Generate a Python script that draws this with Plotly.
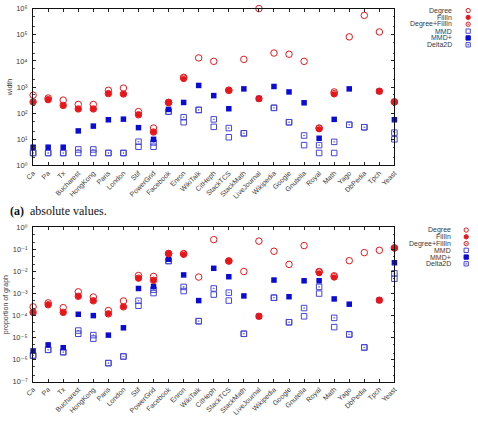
import plotly.graph_objects as go

W, H = 478, 421

cats = ["Ca", "Pa", "Tx", "Bucharest", "HongKong", "Paris", "London", "Stif",
        "PowerGrid", "Facebook", "Enron", "WikiTalk", "CitHeph", "StackTCS",
        "StackMath", "LiveJournal", "Wikipedia", "Google", "Gnutella", "Royal",
        "Math", "Yago", "DbPedia", "Tpch", "Yeast"]

# ---- (a) absolute values (width) ----
abs_degree = [490, 380, 316, 215, 215, 750, 910, 115, 27, 257, 2350, 13000, 9600, 750,
              11400, 1000000, 20000, 18000, 9600, 27, 650, 83000, 550000, 128000, 270]
abs_fillin = [270, 330, 198, 145, 145, 560, 540, 87, 19, 257, 2030, None, None, 750,
              None, 360, None, None, None, 24.5, 530, None, None, 690, 270]
abs_degfill = [270, 330, 198, 145, 145, 560, 540, 87, 19, 257, 2200, None, None, 750,
               None, 360, None, None, None, 26, 560, None, None, 690, 270]
abs_mmd = [3, 3, 3, 3, 3, 3, 3, 5.2, 5.2, 115, 45, 133, 30, 12,
           17, None, 160, 45, 6, 3, 3, 36, 29, None, 10]
abs_mmdplus = [5, 5, 5, 21, 32, 56, 59, 28, 10, 140, 257, 1150, 470, 148,
               850, 360, 1050, 650, 250, 11, 58, 850, None, 690, 56]
abs_delta2d = [3, 3, 3, 4.1, 4.1, 3, 3, 8.1, 7.6, 115, 70, 133, 58, 27,
               17, None, 160, 45, 14, 6, 8, 36, 29, None, 18]

# ---- proportion of graph ----
rel_degree = [2.5e-4, 3.8e-4, 2.3e-4, 1.2e-3, 7e-4, 1.7e-4, 4.6e-4, 6.6e-3, 6e-3, 0.065,
              0.065, 5.6e-3, 0.28, 0.03, 0.01, 0.24, 0.083, 0.021, 0.15, 0.01,
              6.4e-3, 0.031, 0.072, 0.092, 0.117]
rel_fillin = [1.4e-4, 3.1e-4, 1.4e-4, 7.5e-4, 4.7e-4, 1.2e-4, 2.5e-4, 5e-3, 4e-3, 0.065,
              0.058, None, None, 0.03, None, 9.3e-5, None, None, None, 8.3e-3,
              5.4e-3, None, None, 5e-4, 0.117]
rel_degfill = [1.4e-4, 3.1e-4, 1.4e-4, 7.5e-4, 4.7e-4, 1.2e-4, 2.5e-4, 5e-3, 4e-3, 0.065,
               0.062, None, None, 0.03, None, 9.3e-5, None, None, None, 9.5e-3,
               5.8e-3, None, None, 5e-4, 0.117]
rel_mmd = [1.55e-6, 2.8e-6, 2.2e-6, 1.5e-5, 9e-6, 7e-7, 1.4e-6, 2.8e-4, 1.05e-3, 0.03,
           1.3e-3, 5.6e-5, 9e-4, 4.8e-4, 1.5e-5, None, 6.5e-4, 5e-5, 9.3e-5, 1e-3,
           3e-5, 1.4e-5, 3.6e-6, None, 4.7e-3]
rel_mmdplus = [2.5e-6, 4.7e-6, 3.5e-6, 1.15e-4, 1e-4, 1.3e-5, 2.8e-5, 1.7e-3, 2.1e-3, 0.036,
               7e-3, 4.8e-4, 0.014, 5.8e-3, 7.8e-4, 9.3e-5, 4.1e-3, 7.2e-4, 3.8e-3, 3.8e-3,
               5.7e-4, 3.3e-4, None, 5e-4, 0.025]
rel_delta2d = [1.55e-6, 2.8e-6, 2.2e-6, 2.1e-5, 1.3e-5, 7e-7, 1.4e-6, 4.7e-4, 1.5e-3, 0.03,
               2e-3, 5.6e-5, 1.7e-3, 1.1e-3, 1.5e-5, None, 6.5e-4, 5e-5, 2.2e-4, 2e-3,
               7.9e-5, 1.4e-5, 3.6e-6, None, 8.3e-3]

top_ticks = [1, 10, 100, 1000, 1e4, 1e5, 1e6]
top_ticktext = ["10⁰", "10¹", "10²", "10³", "10⁴", "10⁵", "10⁶"]
bot_ticks = [1e-7, 1e-6, 1e-5, 1e-4, 1e-3, 1e-2, 1e-1, 1]
bot_ticktext = ["10⁻⁷", "10⁻⁶", "10⁻⁵", "10⁻⁴", "10⁻³", "10⁻²", "10⁻¹", "10⁰"]

series_names = ["Degree", "FillIn", "Degree+FillIn", "MMD", "MMD+", "Delta2D"]
top_data = dict(zip(series_names, [abs_degree, abs_fillin, abs_degfill, abs_mmd, abs_mmdplus, abs_delta2d]))
bot_data = dict(zip(series_names, [rel_degree, rel_fillin, rel_degfill, rel_mmd, rel_mmdplus, rel_delta2d]))

RED = "#e8161b"
BLUE_F = "#0b0bd6"
BLUE_O = "#4646dc"
styles = {
    "Degree": dict(symbol="circle-open", color=RED, size=6.5, lw=1),
    "FillIn": dict(symbol="circle", color=RED, size=6, lw=0),
    "Degree+FillIn": dict(symbol="circle-open-dot", color=RED, size=6.5, lw=1),
    "MMD": dict(symbol="square-open", color=BLUE_O, size=5.5, lw=1),
    "MMD+": dict(symbol="square", color=BLUE_F, size=5.5, lw=0),
    "Delta2D": dict(symbol="square-open-dot", color=BLUE_O, size=5.5, lw=1),
}
draw_order = ["MMD", "Delta2D", "MMD+", "Degree", "Degree+FillIn", "FillIn"]

fig = go.Figure()
for data, xa, ya in [(top_data, "x", "y"), (bot_data, "x2", "y2")]:
    for name in draw_order:
        s = styles[name]
        fig.add_trace(go.Scatter(
            x=cats, y=data[name], mode="markers", name=name, xaxis=xa, yaxis=ya,
            showlegend=False, cliponaxis=False,
            marker=dict(symbol=s["symbol"], color=s["color"], size=s["size"],
                        line=dict(color=s["color"], width=s["lw"]))))

FONT = "Liberation Sans, Arial, DejaVu Sans, sans-serif"
TXT = "#3a3a3a"
xdom = [25.7 / W, 395.5 / W]
common_x = dict(type="category", categoryorder="array", categoryarray=cats,
                range=[0, len(cats) - 1], tickangle=-45, ticks="inside", ticklen=3,
                tickcolor="#222", mirror="allticks", showline=True, linecolor="#111",
                linewidth=1, showgrid=False, zeroline=False,
                tickfont=dict(family=FONT, size=7, color=TXT), domain=xdom)
common_y = dict(type="log", ticks="inside", ticklen=3, tickcolor="#222", mirror="allticks",
                showline=True, linecolor="#111", linewidth=1, showgrid=False,
                zeroline=False, ticklabelstandoff=3,
                tickfont=dict(family=FONT, size=7.5, color=TXT),
                minor=dict(ticks="inside", ticklen=1.5, tickcolor="#444", dtick="D2"))

fig.update_layout(
    width=W, height=H, margin=dict(l=0, r=0, t=0, b=0),
    paper_bgcolor="white", plot_bgcolor="white", showlegend=False,
    font=dict(family=FONT, size=7, color=TXT),
    xaxis=dict(common_x, anchor="y"),
    yaxis=dict(common_y, anchor="x", domain=[(H - 165) / H, (H - 4.7) / H], range=[0, 6],
               tickvals=top_ticks, ticktext=top_ticktext,
               title=dict(text="width", standoff=2, font=dict(family=FONT, size=7, color=TXT))),
    xaxis2=dict(common_x, anchor="y2"),
    yaxis2=dict(common_y, anchor="x2", domain=[(H - 386) / H, (H - 228.3) / H], range=[-7, 0],
                tickvals=bot_ticks, ticktext=bot_ticktext,
                title=dict(text="proportion of graph", standoff=2,
                           font=dict(family=FONT, size=7, color=TXT))),
)

# caption: bold "(a)" followed by regular text
SERIF = "Liberation Serif, DejaVu Serif, serif"
fig.add_annotation(text="(a)", xref="paper", yref="paper",
                   x=0.5 / W, y=1 - 211.5 / H, xanchor="left", yanchor="middle",
                   showarrow=False, font=dict(family=SERIF, size=12, color="#111", weight="bold"))
fig.add_annotation(text="absolute values.", xref="paper", yref="paper",
                   x=20.5 / W, y=1 - 211.5 / H, xanchor="left", yanchor="middle",
                   showarrow=False, font=dict(family=SERIF, size=12, color="#111"))

# manual legends (text right-aligned, key on the right)
def add_legend(top_px, text_right_px, key_px, step):
    for k, name in enumerate(series_names):
        ypx = top_px + step * k
        fig.add_annotation(text=name, xref="paper", yref="paper", x=text_right_px / W,
                           y=1 - ypx / H, xanchor="right", yanchor="middle", showarrow=False,
                           font=dict(family=FONT, size=7, color=TXT))
        s = styles[name]
        r = 2.2
        x0, x1 = (key_px - r) / W, (key_px + r) / W
        y0, y1 = 1 - (ypx + r) / H, 1 - (ypx - r) / H
        shape_type = "circle" if "circle" in s["symbol"] else "rect"
        filled = s["lw"] == 0
        fig.add_shape(type=shape_type, xref="paper", yref="paper", x0=x0, x1=x1, y0=y0, y1=y1,
                      line=dict(color=s["color"], width=1),
                      fillcolor=s["color"] if filled else "rgba(0,0,0,0)")
        if s["symbol"].endswith("dot"):
            d = 0.7
            fig.add_shape(type=shape_type, xref="paper", yref="paper",
                          x0=(key_px - d) / W, x1=(key_px + d) / W,
                          y0=1 - (ypx + d) / H, y1=1 - (ypx - d) / H,
                          line=dict(color=s["color"], width=0), fillcolor=s["color"])

add_legend(6.7, 456.5, 471, 7.0)
add_legend(231, 455, 469, 6.9)

fig.write_html("out.html")
